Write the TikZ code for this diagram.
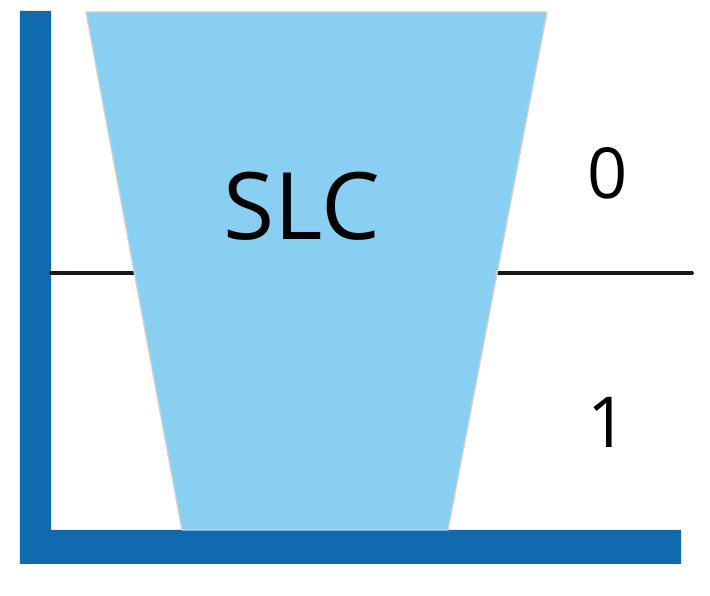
\documentclass[tikz,border=0pt]{standalone}
\usepackage{fontspec}
\setmainfont{Open Sans}
\usepackage{tkz-euclide}

\definecolor{axisblue}{RGB}{15,106,176}
\definecolor{cellblue}{RGB}{136,207,241}

\begin{document}
\begin{tikzpicture}[scale=1]
            \useasboundingbox (0,0) rectangle (14.2,11.92);

            % axes
            \tkzDefPoint (0.4, 11.7){A}
            \tkzDefPoint (1.02, 11.7){B}
            \tkzDefPoint (1.02, 1.32){C}
            \tkzDefPoint (13.62, 1.32){D}
            \tkzDefPoint (13.62, 0.64){E}
            \tkzDefPoint (0.4, 0.64){F}
            \tkzFillPolygon[color=axisblue](A, B, C, D, E, F)

            % level line
            \tkzDefPoint (1.02, 6.46){L}
            \tkzDefPoint (13.84, 6.46){R}
            \tkzDrawSegment[line width=2.2pt, color=black!90](L, R)

            % cell
            \tkzDefPoint (1.72, 11.68){P}
            \tkzDefPoint (10.94, 11.68){Q}
            \tkzDefPoint (8.96, 1.32){S}
            \tkzDefPoint (3.64, 1.32){T}
            \tkzDrawPolygon[draw=black!18, line width=0.8pt, fill=cellblue](P, Q, S, T)

            \node[font=\fontsize{53}{60}\selectfont] (slc) at (6.04, 7.8) {SLC};
            \node[font=\fontsize{40}{46}\selectfont] (zero) at (12.16, 8.46) {0};
            \node[font=\fontsize{40}{46}\selectfont] (one) at (12.16, 3.48) {1};
        \end{tikzpicture}
\end{document}
